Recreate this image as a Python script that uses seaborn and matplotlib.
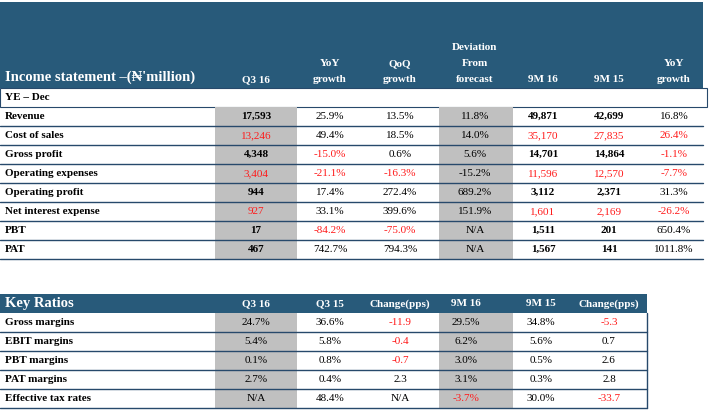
import matplotlib
matplotlib.use("Agg")
import matplotlib.pyplot as plt
import seaborn as sns
from matplotlib.patches import Rectangle

sns.set_theme(style="white")
plt.rcParams['font.family'] = ['Liberation Serif', 'DejaVu Serif']

# ---- data ----
inc_headers = ["Q3 16", "YoY\ngrowth", "QoQ\ngrowth", "Deviation\nFrom\nforecast", "9M 16", "9M 15", "YoY\ngrowth"]
inc_rows = ["Revenue", "Cost of sales", "Gross profit", "Operating expenses",
            "Operating profit", "Net interest expense", "PBT", "PAT"]
inc_vals = [
    ["17,593", "25.9%", "13.5%", "11.8%", "49,871", "42,699", "16.8%"],
    ["13,246", "49.4%", "18.5%", "14.0%", "35,170", "27,835", "26.4%"],
    ["4,348", "-15.0%", "0.6%", "5.6%", "14,701", "14,864", "-1.1%"],
    ["3,404", "-21.1%", "-16.3%", "-15.2%", "11,596", "12,570", "-7.7%"],
    ["944", "17.4%", "272.4%", "689.2%", "3,112", "2,371", "31.3%"],
    ["927", "33.1%", "399.6%", "151.9%", "1,601", "2,169", "-26.2%"],
    ["17", "-84.2%", "-75.0%", "N/A", "1,511", "201", "650.4%"],
    ["467", "742.7%", "794.3%", "N/A", "1,567", "141", "1011.8%"],
]
inc_red = [
    [0, 0, 0, 0, 0, 0, 0],
    [1, 0, 0, 0, 1, 1, 1],
    [0, 1, 0, 0, 0, 0, 1],
    [1, 1, 1, 0, 1, 1, 1],
    [0, 0, 0, 0, 0, 0, 0],
    [1, 0, 0, 0, 1, 1, 1],
    [0, 1, 1, 0, 0, 0, 0],
    [0, 0, 0, 0, 0, 0, 0],
]
inc_bold_cols = [0, 4, 5]

kr_headers = ["Q3 16", "Q3 15", "Change(pps)", "9M 16", "9M 15", "Change(pps)"]
kr_rows = ["Gross margins", "EBIT margins", "PBT margins", "PAT margins", "Effective tax rates"]
kr_vals = [
    ["24.7%", "36.6%", "-11.9", "29.5%", "34.8%", "-5.3"],
    ["5.4%", "5.8%", "-0.4", "6.2%", "5.6%", "0.7"],
    ["0.1%", "0.8%", "-0.7", "3.0%", "0.5%", "2.6"],
    ["2.7%", "0.4%", "2.3", "3.1%", "0.3%", "2.8"],
    ["N/A", "48.4%", "N/A", "-3.7%", "30.0%", "-33.7"],
]
kr_red = [
    [0, 0, 1, 0, 0, 1],
    [0, 0, 1, 0, 0, 0],
    [0, 0, 1, 0, 0, 0],
    [0, 0, 0, 0, 0, 0],
    [0, 0, 0, 1, 0, 1],
]

HDR = "#285a7a"
LINE = "#27496b"
GRAY = "#c0c0c0"
RED = "#ff1a1a"

fig = plt.figure(figsize=(7.09, 4.18), dpi=100)
ax = fig.add_axes([0, 0, 1, 1])
ax.set_xlim(0, 709)
ax.set_ylim(418, 0)
ax.axis("off")

FS = 8

# ---- income statement ----
W1 = 703
ax.add_patch(Rectangle((0, 2), W1, 86, color=HDR, lw=0))
inc_x = [256, 330, 400, 475, 543, 609, 674]
for x, h in zip(inc_x, inc_headers):
    ax.text(x, 84, h, ha="center", va="bottom", color="white", fontsize=FS,
            fontweight="bold", linespacing=2.0)
ax.text(5, 84, "Income statement \u2013(\u20a6'million)", ha="left", va="bottom",
        color="white", fontsize=10.5, fontweight="bold")
# YE row
ax.add_patch(Rectangle((0, 88), 707, 19, fill=False, ec=LINE, lw=0.8))
ax.text(5, 97.5, "YE \u2013 Dec", ha="left", va="center", fontsize=FS, fontweight="bold", color="black")
top = 107
rh = 19
ax.add_patch(Rectangle((215, top), 82, rh * len(inc_rows), color=GRAY, lw=0))
ax.add_patch(Rectangle((439, top), 74, rh * len(inc_rows), color=GRAY, lw=0))
for i, (name, vals, reds) in enumerate(zip(inc_rows, inc_vals, inc_red)):
    y = top + rh * i + rh / 2
    ax.text(5, y, name, ha="left", va="center", fontsize=FS, fontweight="bold", color="black")
    for j, (x, v, r) in enumerate(zip(inc_x, vals, reds)):
        bold = (j in inc_bold_cols) and not r
        ax.text(x, y, v, ha="center", va="center", fontsize=FS,
                fontweight="bold" if bold else "normal", color=RED if r else "black")
    ax.plot([0, W1], [top + rh * (i + 1)] * 2, color=LINE, lw=1.0)

# ---- key ratios ----
W2 = 647
t2 = 294
ax.add_patch(Rectangle((0, t2), W2, 19, color=HDR, lw=0))
ax.text(5, t2 + 10, "Key Ratios", ha="left", va="center", color="white", fontsize=10.5, fontweight="bold")
kr_x = [256, 330, 400, 466, 541, 609]
for x, h in zip(kr_x, kr_headers):
    ax.text(x, t2 + 10, h, ha="center", va="center", color="white", fontsize=FS, fontweight="bold")
top2 = t2 + 19
ax.add_patch(Rectangle((215, top2), 82, rh * len(kr_rows), color=GRAY, lw=0))
ax.add_patch(Rectangle((439, top2), 74, rh * len(kr_rows), color=GRAY, lw=0))
for i, (name, vals, reds) in enumerate(zip(kr_rows, kr_vals, kr_red)):
    y = top2 + rh * i + rh / 2
    ax.text(5, y, name, ha="left", va="center", fontsize=FS, fontweight="bold", color="black")
    for x, v, r in zip(kr_x, vals, reds):
        ax.text(x, y, v, ha="center", va="center", fontsize=FS, color=RED if r else "black")
    ax.plot([0, W2], [top2 + rh * (i + 1)] * 2, color=LINE, lw=1.0)
ax.plot([W2, W2], [top2, top2 + rh * len(kr_rows)], color=LINE, lw=1.0)

fig.savefig("out.png", dpi=100)
